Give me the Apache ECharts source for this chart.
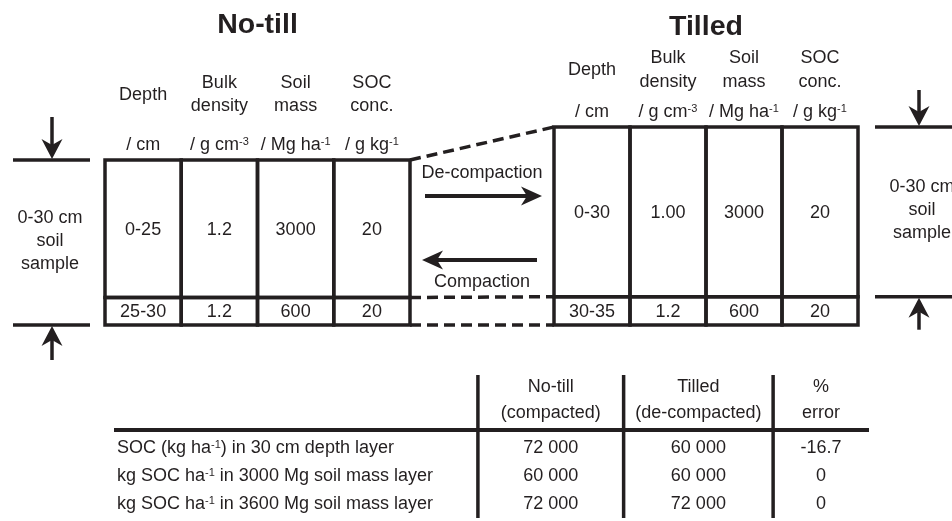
<!DOCTYPE html>
<html><head><meta charset="utf-8">
<script src="https://cdn.jsdelivr.net/npm/echarts@6/dist/echarts.min.js"></script>
<style>html,body{margin:0;padding:0;background:#fff}#c{width:952px;height:521px}</style>
</head><body><div id="c"></div>
<script>
// ---------------- data ----------------
const titles = ['No-till', 'Tilled'];
const headerLine1 = ['', 'Bulk', 'Soil', 'SOC'];
const headerLine2 = ['', 'density', 'mass', 'conc.'];
const headerSingle = ['Depth', '', '', ''];
const headerUnits = ['/ cm', '/ g cm^-3', '/ Mg ha^-1', '/ g kg^-1'];

const noTillDepths = [0, 25, 30];          // cm, layer boundaries
const noTillBulkDensity = ['1.2', '1.2'];  // g cm-3
const noTillSoilMass = [3000, 600];        // Mg ha-1
const noTillSocConc = [20, 20];            // g kg-1

const tilledDepths = [0, 30, 35];
const tilledBulkDensity = ['1.00', '1.2'];
const tilledSoilMass = [3000, 600];
const tilledSocConc = [20, 20];

const sampleDepth = [0, 30];
const sampleLabel = ['0-30 cm', 'soil', 'sample'];
const processLabels = ['De-compaction', 'Compaction'];

const summaryHeaders = [['No-till', '(compacted)'], ['Tilled', '(de-compacted)'], ['%', 'error']];
const summaryRows = ['SOC (kg ha^-1) in 30 cm depth layer', 'kg SOC ha^-1 in 3000 Mg soil mass layer', 'kg SOC ha^-1 in 3600 Mg soil mass layer'];
const summaryNoTill = [72000, 60000, 72000];
const summaryTilled = [60000, 60000, 72000];
const summaryError = ['-16.7', '0', '0'];

// ---------------- styles / layout ----------------
const INK = '#231f20';
const FONT = '"Liberation Sans", Arial, Helvetica, sans-serif';
const FS = 18;
const LW = 3.5;
const DASH = [11, 6];
const HDR = [
  { title: -135, l1: -77, l2: -54, single: -65, units: -15 },
  { title: -100, l1: -69, l2: -45, single: -57, units: -15 }
];
const SUM_EDGES = [0, 0.482, 0.675, 0.873, 1];
const SUM_LABEL_X = 0.004;

function fmtThousands(n) { return String(n).replace(/\B(?=(\d{3})+(?!\d))/g, ' '); }

function txt(x, y, s, opt) {
  opt = opt || {};
  const hasSup = /\^/.test(s);
  const al = opt.align || 'center';
  const style = {
    text: hasSup ? s.replace(/\^(-?\d+)/g, '{s|$1}') : s,
    x: x, y: y, fill: INK,
    font: (opt.bold ? 'bold ' : '') + (opt.size || FS) + 'px ' + FONT,
    textAlign: al, align: al, textVerticalAlign: 'middle', verticalAlign: 'middle'
  };
  if (hasSup) style.rich = { s: { fontSize: 11, fontFamily: FONT, verticalAlign: 'top', lineHeight: 11, fill: INK } };
  return { type: 'text', style: style, silent: true };
}
function line(x1, y1, x2, y2, w, dash) {
  const st = { stroke: INK, lineWidth: w || LW };
  if (dash) st.lineDash = dash;
  return { type: 'line', shape: { x1: x1, y1: y1, x2: x2, y2: y2 }, style: st, silent: true };
}
function arrow(x1, y1, x2, y2, hl, hw, sw) {
  hl = hl || 21; hw = hw || 9.5; sw = sw || 4;
  const notch = 6;
  const dx = x2 - x1, dy = y2 - y1, L = Math.hypot(dx, dy), ux = dx / L, uy = dy / L, nx = -uy, ny = ux;
  const bx = x2 - ux * hl, by = y2 - uy * hl;
  const mx = x2 - ux * (hl - notch), my = y2 - uy * (hl - notch);
  return { type: 'group', silent: true, children: [
    line(x1, y1, mx, my, sw),
    { type: 'polygon', shape: { points: [[x2, y2], [bx + nx * hw, by + ny * hw], [mx, my], [bx - nx * hw, by - ny * hw]] }, style: { fill: INK } }
  ]};
}

function tableSeries(g, depths, cols) {
  const data = [];
  for (let r = 0; r < depths.length - 1; r++) for (let c = 0; c < 4; c++) data.push([c, depths[r], depths[r + 1], r]);
  return {
    type: 'custom', coordinateSystem: 'cartesian2d', xAxisIndex: g, yAxisIndex: g,
    data: data, encode: { x: 0, y: [1, 2] }, clip: false, silent: true,
    renderItem: function (params, api) {
      const c = api.value(0), d0 = api.value(1), d1 = api.value(2), r = api.value(3);
      const p0 = api.coord([c, d0]), p1 = api.coord([c + 1, d1]);
      return { type: 'group', children: [
        { type: 'rect', shape: { x: p0[0], y: p0[1], width: p1[0] - p0[0], height: p1[1] - p0[1] }, style: { fill: 'none', stroke: INK, lineWidth: LW } },
        txt((p0[0] + p1[0]) / 2, (p0[1] + p1[1]) / 2 + 1, String(cols[c][r]))
      ]};
    }
  };
}
function headerSeries(g) {
  const h = HDR[g];
  return {
    type: 'custom', coordinateSystem: 'cartesian2d', xAxisIndex: g, yAxisIndex: g,
    data: [[0, 0], [1, 0], [2, 0], [3, 0]], encode: { x: 0, y: 1 }, clip: false, silent: true,
    renderItem: function (params, api) {
      const c = api.value(0);
      const p = api.coord([c + 0.5, 0]);
      const ch = [];
      if (headerSingle[c]) ch.push(txt(p[0], p[1] + h.single, headerSingle[c]));
      if (headerLine1[c]) ch.push(txt(p[0], p[1] + h.l1, headerLine1[c]));
      if (headerLine2[c]) ch.push(txt(p[0], p[1] + h.l2, headerLine2[c]));
      ch.push(txt(p[0], p[1] + h.units, headerUnits[c]));
      if (c === 0) { const t = api.coord([2, 0]); ch.push(txt(t[0], t[1] + h.title, titles[g], { bold: true, size: 28.5 })); }
      return { type: 'group', children: ch };
    }
  };
}
function bracketSeries(g, side) {
  return {
    type: 'custom', coordinateSystem: 'cartesian2d', xAxisIndex: g, yAxisIndex: g,
    data: [[side === 'left' ? 0 : 4, sampleDepth[0], sampleDepth[1]]], encode: { x: 0, y: [1, 2] }, clip: false, silent: true,
    renderItem: function (params, api) {
      const top = api.coord([api.value(0), api.value(1)]);
      const bot = api.coord([api.value(0), api.value(2)]);
      const e = top[0];
      const xa = side === 'left' ? e - 92 : e + 17, xb = side === 'left' ? e - 15 : e + 110;
      const ax = side === 'left' ? e - 53 : e + 61;
      const tx = side === 'left' ? e - 55 : e + 64;
      const dn = side === 'left' ? 43 : 37, up = side === 'left' ? 35 : 33;
      const mid = (top[1] + bot[1]) / 2 - 1.5;
      return { type: 'group', children: [
        line(xa, top[1], xb, top[1]),
        line(xa, bot[1], xb, bot[1]),
        arrow(ax, top[1] - dn, ax, top[1] - 1, 20, 10.5, 3.5),
        arrow(ax, bot[1] + up, ax, bot[1] + 1, 20, 10.5, 3.5),
        txt(tx, mid - 23, sampleLabel[0]),
        txt(tx, mid, sampleLabel[1]),
        txt(tx, mid + 23, sampleLabel[2])
      ]};
    }
  };
}
function summarySeries() {
  const data = summaryRows.map(function (_, r) { return [0, r, r + 1]; });
  return {
    type: 'custom', coordinateSystem: 'cartesian2d', xAxisIndex: 2, yAxisIndex: 2,
    data: data, encode: { x: 0, y: [1, 2] }, clip: false, silent: true,
    renderItem: function (params, api) {
      const r = api.value(1);
      const p0 = api.coord([SUM_LABEL_X, r + 0.5]);
      const y = p0[1] + 1;
      const cx = function (i) { return (api.coord([SUM_EDGES[i + 1], 0])[0] + api.coord([SUM_EDGES[i + 2], 0])[0]) / 2; };
      const ch = [
        txt(p0[0], y, summaryRows[r], { align: 'left' }),
        txt(cx(0), y, fmtThousands(summaryNoTill[r])),
        txt(cx(1), y, fmtThousands(summaryTilled[r])),
        txt(cx(2), y, summaryError[r])
      ];
      if (r === 0) {
        const top = api.coord([0, 0])[1];
        const right = api.coord([1, 0])[0];
        ch.push(line(api.coord([0, 0])[0], top - 3, right, top - 3, 4));
        for (let i = 1; i <= 3; i++) { const x = api.coord([SUM_EDGES[i], 0])[0]; ch.push(line(x, top - 58, x, top + 85)); }
        for (let i = 0; i < 3; i++) {
          ch.push(txt(cx(i), top - 46, summaryHeaders[i][0]));
          ch.push(txt(cx(i), top - 20, summaryHeaders[i][1]));
        }
      }
      return { type: 'group', children: ch };
    }
  };
}

const chart = echarts.init(document.getElementById('c'), null, { renderer: 'canvas' });
const option = {
  animation: false,
  backgroundColor: '#ffffff',
  grid: [
    { left: 105, top: 160, width: 305, height: 165, containLabel: false, outerBoundsMode: 'none' },
    { left: 554, top: 127, width: 304, height: 198, containLabel: false, outerBoundsMode: 'none' },
    { left: 114, top: 433, width: 755, height: 84, containLabel: false, outerBoundsMode: 'none' }
  ],
  xAxis: [
    { gridIndex: 0, type: 'value', min: 0, max: 4, show: false },
    { gridIndex: 1, type: 'value', min: 0, max: 4, show: false },
    { gridIndex: 2, type: 'value', min: 0, max: 1, show: false }
  ],
  yAxis: [
    { gridIndex: 0, type: 'value', min: noTillDepths[0], max: noTillDepths[noTillDepths.length - 1], inverse: true, show: false },
    { gridIndex: 1, type: 'value', min: tilledDepths[0], max: tilledDepths[tilledDepths.length - 1], inverse: true, show: false },
    { gridIndex: 2, type: 'value', min: 0, max: summaryRows.length, inverse: true, show: false }
  ],
  series: [
    tableSeries(0, noTillDepths, [noTillDepths.slice(0, -1).map(function (d, i) { return d + '-' + noTillDepths[i + 1]; }), noTillBulkDensity, noTillSoilMass, noTillSocConc]),
    tableSeries(1, tilledDepths, [tilledDepths.slice(0, -1).map(function (d, i) { return d + '-' + tilledDepths[i + 1]; }), tilledBulkDensity, tilledSoilMass, tilledSocConc]),
    headerSeries(0), headerSeries(1),
    bracketSeries(0, 'left'), bracketSeries(1, 'right'),
    summarySeries()
  ]
};
chart.setOption(option);

// connectors between the two profiles, placed through the grids' own scales
const P = noTillDepths.map(function (d) { return chart.convertToPixel({ gridIndex: 0 }, [4, d]); });
const Q = tilledDepths.map(function (d) { return chart.convertToPixel({ gridIndex: 1 }, [0, d]); });
const midX = (P[0][0] + Q[0][0]) / 2;
const els = [];
for (let i = 0; i < P.length; i++) els.push(line(P[i][0], P[i][1], Q[i][0], Q[i][1], LW, DASH));
const gTop = Q[0][1];
els.push(arrow(P[0][0] + 15, gTop + 69, Q[0][0] - 12, gTop + 69));
els.push(arrow(Q[0][0] - 17, gTop + 133, P[0][0] + 12, gTop + 133));
els.push(txt(midX, gTop + 46, processLabels[0]));
els.push(txt(midX, gTop + 155, processLabels[1]));
chart.setOption({ graphic: { elements: els } });
</script>
</body></html>
